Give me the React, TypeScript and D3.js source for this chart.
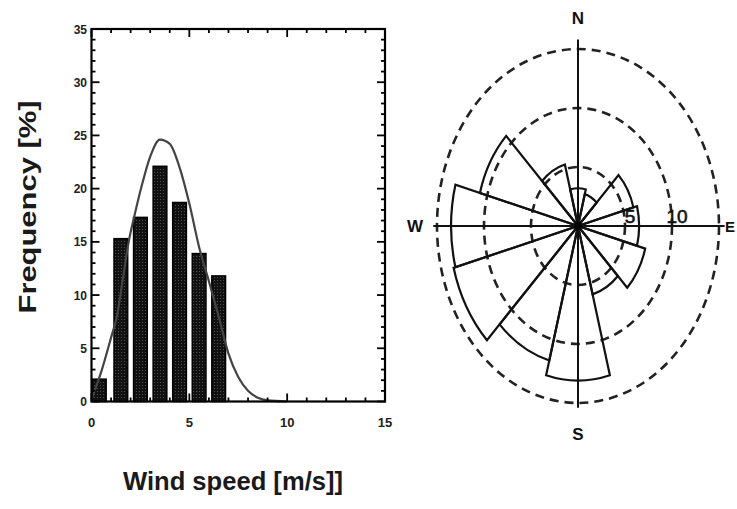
import React from "react";
import * as d3 from "d3";

// ---- Histogram data ----
const binCenters: number[] = [0.4, 1.5, 2.5, 3.5, 4.5, 5.5, 6.5];
const binFreq: number[] = [2.1, 15.3, 17.3, 22.1, 18.7, 13.9, 11.8];
const binWidth = 0.7;
const fitX: number[] = [0, 0.5, 1, 1.3, 1.6, 1.9, 2.2, 2.6, 3, 3.5, 4, 4.5, 5, 5.5, 6, 6.5, 7, 7.5, 8, 8.5, 9, 10];
const fitY: number[] = [0.2, 2.8, 6, 8, 11.5, 15, 17.5, 20.5, 23, 24.6, 24.2, 22, 18.6, 14.5, 11.3, 8, 4.5, 2.3, 1, 0.35, 0.1, 0];
const xTickLabels: number[] = [0, 5, 10, 15];
const yTickLabels: number[] = [0, 5, 10, 15, 20, 25, 30, 35];

// ---- Wind rose data ----
const roseDirs: number[] = [0, 30, 60, 90, 120, 150, 180, 210, 240, 270, 300, 330];
const roseVals: number[] = [3.2, 2.8, 6.1, 6.5, 7.4, 6.0, 13.1, 11.8, 13.7, 13.5, 10.8, 5.4];
const ringVals: number[] = [5, 10, 15];
const ringLabels: number[] = [5, 10];
const compassLabels: string[] = ["N", "E", "S", "W"];

const FONT = "'Liberation Sans', Arial, Helvetica, sans-serif";

export default function App() {
  const x = d3.scaleLinear().domain([0, 15]).range([91.5, 385]);
  const y = d3.scaleLinear().domain([0, 35]).range([401.5, 29]);

  const line = d3
    .line<number>()
    .x((_, i) => x(fitX[i]))
    .y((d) => y(d))
    .curve(d3.curveMonotoneX);

  const minorX = d3.range(0, 16);
  const minorY = d3.range(0, 36);

  // rose
  const cx = 578;
  const cy = 226;
  const stretch = 1.255;
  const r = d3.scaleLinear().domain([0, 15]).range([0, 141]);
  const arc = d3.arc<any>();

  const compassPos: Record<string, [number, number, string]> = {
    N: [cx, 24, "middle"],
    S: [cx, 440, "middle"],
    W: [415, cy + 6, "middle"],
    E: [725, cy + 6, "start"],
  };

  return (
    <svg
      width={737}
      height={509}
      style={{ position: "absolute", left: 0, top: 0, background: "#fff" }}
      fontFamily={FONT}
    >
      <defs>
        <pattern id="stip" width="3" height="3" patternUnits="userSpaceOnUse">
          <rect width="3" height="3" fill="#111" />
          <circle cx="1.5" cy="1.5" r="0.6" fill="#555" />
        </pattern>
      </defs>
      <rect width={737} height={509} fill="#fff" />

      {/* Histogram */}
      {binCenters.map((c, i) => (
        <rect
          key={i}
          x={x(c - binWidth / 2)}
          y={y(binFreq[i])}
          width={x(c + binWidth / 2) - x(c - binWidth / 2)}
          height={y(0) - y(binFreq[i])}
          fill="url(#stip)"
          stroke="#000"
          strokeWidth={1.5}
        />
      ))}
      <path d={line(fitY) || ""} fill="none" stroke="#444" strokeWidth={2.2} />

      {/* ticks */}
      {minorX.map((v) => {
        const len = v % 5 === 0 ? 8 : 4;
        return (
          <g key={"tx" + v} stroke="#000" strokeWidth={1.8}>
            <line x1={x(v)} x2={x(v)} y1={y(0)} y2={y(0) - len} />
            <line x1={x(v)} x2={x(v)} y1={y(35)} y2={y(35) + len} />
          </g>
        );
      })}
      {minorY.map((v) => {
        const len = v % 5 === 0 ? 8 : 4;
        return (
          <g key={"ty" + v} stroke="#000" strokeWidth={1.8}>
            <line x1={x(0)} x2={x(0) + len} y1={y(v)} y2={y(v)} />
            <line x1={x(15)} x2={x(15) - len} y1={y(v)} y2={y(v)} />
          </g>
        );
      })}
      <rect
        x={x(0)}
        y={y(35)}
        width={x(15) - x(0)}
        height={y(0) - y(35)}
        fill="none"
        stroke="#000"
        strokeWidth={2.2}
      />
      {xTickLabels.map((v) => (
        <text key={"xl" + v} x={x(v)} y={427} textAnchor="middle" fontSize={13} fontWeight="bold" fill="#222">
          {v}
        </text>
      ))}
      {yTickLabels.map((v) => (
        <text key={"yl" + v} x={87} y={y(v) + 4.5} textAnchor="end" fontSize={12} fontWeight="bold" fill="#222">
          {v}
        </text>
      ))}
      <text
        transform="translate(36,207) rotate(-90)"
        textAnchor="middle"
        fontSize={24}
        fontWeight="bold"
        fill="#1a1a1a"
        textLength={213}
        lengthAdjust="spacingAndGlyphs"
      >
        Frequency [%]
      </text>
      <text
        x={233}
        y={490}
        textAnchor="middle"
        fontSize={25}
        fontWeight="bold"
        fill="#1a1a1a"
        textLength={220}
        lengthAdjust="spacingAndGlyphs"
      >
        Wind speed [m/s]]
      </text>

      {/* Wind rose */}
      <g transform={`translate(${cx},${cy})`}>
        {ringVals.map((v) => (
          <ellipse
            key={"ring" + v}
            rx={r(v)}
            ry={r(v) * stretch}
            fill="none"
            stroke="#222"
            strokeWidth={2.6}
            strokeDasharray="9,6"
          />
        ))}
        <g transform={`scale(1,${stretch})`}>
          {roseDirs.map((dir, i) => (
            <path
              key={"sec" + dir}
              d={
                arc({
                  innerRadius: 0,
                  outerRadius: r(roseVals[i]),
                  startAngle: ((dir - 15) * Math.PI) / 180,
                  endAngle: ((dir + 15) * Math.PI) / 180,
                }) || ""
              }
              fill="none"
              stroke="#111"
              strokeWidth={2.2}
              strokeLinejoin="miter"
              vectorEffect="non-scaling-stroke"
            />
          ))}
        </g>
        <line x1={-r(15.4)} x2={r(15.6)} y1={0} y2={0} stroke="#111" strokeWidth={2} />
        <line x1={0} x2={0} y1={-r(15.8) * stretch} y2={r(15.4) * stretch} stroke="#111" strokeWidth={2} />
        <circle r={4} fill="#000" />
        {ringLabels.map((v) => (
          <text key={"rl" + v} x={r(v) + 5} y={-3} textAnchor="middle" fontSize={19} fill="#111" stroke="#111" strokeWidth={0.6}>
            {v}
          </text>
        ))}
      </g>
      {compassLabels.map((t) => {
        const [tx, ty, anchor] = compassPos[t];
        return (
          <text
            key={t}
            x={tx}
            y={ty}
            textAnchor={anchor as any}
            fontSize={t === "E" ? 15 : 17}
            fontWeight="bold"
            fill="#111"
          >
            {t}
          </text>
        );
      })}
    </svg>
  );
}
